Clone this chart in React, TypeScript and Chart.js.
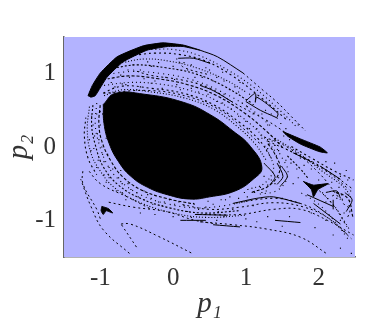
import React, { useEffect, useRef } from "react";
import { Chart, registerables } from "chart.js";
Chart.register(...registerables);

const p1Ticks = [-1, 0, 1, 2];
const p2Ticks = [-1, 0, 1];

type P = [number, number];
const blob: P[] = [[-.96,.58],[-.80,.73],[-.40,.72],[.14,.61],[.51,.44],[.82,.22],[1.06,.01],[1.22,-.28],[1.10,-.44],[.85,-.60],[.50,-.68],[.23,-.71],[-.08,-.65],[-.35,-.55],[-.58,-.40],[-.75,-.20],[-.88,.05],[-.95,.32],[-.96,.58]];
const crescent: P[] = [[-1.17,.70],[-1.11,.84],[-1.0,1.01],[-.77,1.23],[-.41,1.38],[-.14,1.42],[.14,1.39],[.37,1.32],[.14,1.37],[-.08,1.37],[-.36,1.32],[-.69,1.16],[-.91,.95],[-1.07,.70],[-1.13,.68],[-1.17,.70]];
const streak: P[] = [[1.51,.21],[1.75,.11],[2.02,0],[2.12,-.08],[2.0,-.06],[1.75,.04],[1.57,.15],[1.51,.21]];
const starRight: P[] = [[1.79,-.47],[1.93,-.52],[2.13,-.50],[1.99,-.58],[1.93,-.68],[1.90,-.58],[1.79,-.47]];
const starLeft: P[] = [[-.98,-.81],[-.89,-.84],[-.83,-.90],[-.92,-.87],[-.96,-.92],[-.99,-.87],[-.98,-.81]];
const shapes = [blob, crescent, streak, starRight, starLeft];

const tailSolid: P[] = [[.37,1.32],[.61,1.23],[.96,1.01]];
const loopLower: P[] = [[1.0,.62],[1.2,.50],[1.40,.41],[1.44,.39]];
const loopUpper: P[] = [[1.0,.63],[1.13,.73],[1.13,.61],[1.15,.68],[1.44,.46],[1.43,.41]];
const topLoopA: P[] = [[.07,1.21],[.28,1.21],[.51,1.14]];
const midDash: P[] = [[.37,.84],[.55,.77],[.82,.61]];
const bandB4: P[] = [[.82,-.77],[1.15,-.70],[1.38,-.68],[1.75,-.77]];
const hookA: P[] = [[1.43,-.22],[1.51,-.40],[1.43,-.51]];
const hookB: P[] = [[1.49,-.26],[1.57,-.40],[1.47,-.54]];
const hookC: P[] = [[1.25,-.22],[1.4,-.4],[1.33,-.52]];
const barA: P[] = [[.3,-.92],[.75,-.93]];
const barB: P[] = [[.1,-1.0],[.45,-1.0]];
const barC: P[] = [[1.4,-1.0],[1.75,-1.03]];
const barD: P[] = [[.55,-1.06],[.92,-1.09]];
const barE: P[] = [[1.84,-.65],[2.2,-.81]];
const barF: P[] = [[1.93,-.77],[2.3,-1.05]];
const barG: P[] = [[1.65,-.08],[1.88,-.19]];
const barH: P[] = [[2.02,-.26],[2.3,-.44]];
const loopRightA: P[] = [[2.1,-.62],[2.25,-.6],[2.3,-.7]];
const loopRightB: P[] = [[2.2,-.72],[2.2,-.85]];
const loopRightC: P[] = [[2.36,-.62],[2.46,-.72],[2.38,-.88]];
const solidLines = [tailSolid, loopLower, loopUpper, topLoopA, midDash, bandB4, hookA, hookB, hookC, barA, barB, barC, barD, barE, barF, barG, barH, loopRightA, loopRightB, loopRightC];

const tailDash: P[] = [[.96,1.01],[1.24,.77],[1.43,.61],[1.61,.43],[1.82,.22]];
const f1: P[] = [[-.55,1.05],[-.32,.98],[.14,.91],[.51,.80],[.82,.61],[1.29,.36],[1.57,.18]];
const f2: P[] = [[-1.0,.73],[-.32,.77],[.23,.68],[.65,.50],[.92,.29],[1.20,.04]];
const topLoopB: P[] = [[.07,1.19],[.14,1.09],[.51,.98]];
const l1: P[] = [[-.73,-1.05],[-.59,-1.05],[-.2,-1.22],[.28,-1.46]];
const l1b: P[] = [[-.71,-1.06],[-.5,-1.37]];
const l2: P[] = [[-1.27,-.44],[-1.13,-.81],[-.96,-1.13],[-.59,-1.46]];
const l3: P[] = [[-1.18,-.30],[-1.0,-.50],[-.63,-.68],[-.32,-.84]];
const l4: P[] = [[-1.24,-.30],[-1.24,-.50],[-1.05,-.85],[-1.0,-.98]];
const l5: P[] = [[-.9,-.75],[-.55,-.82],[-.1,-.88],[.3,-1.0],[.6,-1.05]];
const b1: P[] = [[.37,-1.02],[.82,-1.06],[1.29,-1.12],[1.75,-1.23],[2.12,-1.46]];
const b2: P[] = [[.37,-.92],[.92,-.92],[1.38,-.85],[1.75,-.85],[2.12,-1.0],[2.48,-1.2]];
const b3: P[] = [[.82,-.77],[1.38,-.70],[1.75,-.77],[2.06,-.92],[2.39,-1.19]];
const b4: P[] = [[.1,-.78],[.5,-.85],[.92,-.82],[1.38,-.76],[1.8,-.82],[2.15,-.98],[2.45,-1.25]];
const d1: P[] = [[1.47,.01],[2.02,-.26],[2.48,-.58]];
const d2: P[] = [[1.3,.08],[1.7,-.1],[2.15,-.36],[2.42,-.58]];
const d3: P[] = [[1.2,.16],[1.6,-.02],[2.0,-.35],[2.3,-.72]];
const d4: P[] = [[1.93,-.52],[2.20,-.79],[2.39,-1.09]];
const d5: P[] = [[2.16,-.68],[2.30,-.63],[2.34,-.77],[2.43,-.85],[2.39,-.98]];
const sparseLines = [tailDash, f1, f2, topLoopB, l1, l1b, l2, l3, l4, l5, b1, b2, b3, b4, d1, d2, d3, d4, d5];

const a1: P[] = [[-.95,.70],[-.7,.78],[-.3,.75],[.15,.67],[.55,.52],[.88,.28],[1.12,.05],[1.28,-.18]];
const a2: P[] = [[-1.0,.72],[-.7,.83],[-.3,.8],[.15,.73],[.55,.58],[.92,.33],[1.18,.1],[1.33,-.12]];
const a3: P[] = [[-.95,.84],[-.6,.88],[-.2,.86],[.2,.78],[.6,.63],[.98,.38],[1.25,.13],[1.42,-.08]];
const a4: P[] = [[-.9,.93],[-.6,.97],[-.2,.93],[.2,.85],[.6,.7],[1.0,.45],[1.3,.2],[1.5,.0]];
const a5: P[] = [[-.85,1.0],[-.55,1.03],[-.15,1.0],[.25,.92],[.65,.76],[1.05,.53],[1.35,.28]];
const a6: P[] = [[-.8,1.08],[-.5,1.12],[-.1,1.08],[.3,1.0],[.7,.83],[1.08,.6]];
const a7: P[] = [[-.7,1.15],[-.4,1.2],[-.05,1.17],[.35,1.07],[.75,.9],[1.0,.75]];
const a8: P[] = [[-.55,1.25],[-.25,1.28],[.1,1.26],[.45,1.17],[.8,.98],[1.2,.68],[1.55,.38]];
const a9: P[] = [[-.3,1.33],[.0,1.33],[.35,1.25],[.75,1.05],[1.1,.82],[1.5,.47],[1.7,.27]];
const c1: P[] = [[-1.0,.6],[-1.02,.3],[-.97,.05],[-.85,-.2],[-.7,-.4],[-.45,-.58],[-.1,-.7],[.3,-.78]];
const c2: P[] = [[-1.05,.6],[-1.07,.3],[-1.02,.05],[-.9,-.25],[-.72,-.47],[-.45,-.65],[-.1,-.77],[.3,-.83],[.7,-.8],[1.1,-.72]];
const c3: P[] = [[-1.1,.6],[-1.12,.3],[-1.07,.03],[-.96,-.27],[-.75,-.52],[-.45,-.7],[-.05,-.83],[.4,-.9],[.9,-.87]];
const c4: P[] = [[-1.15,.55],[-1.18,.25],[-1.14,-.05],[-1.02,-.3],[-.8,-.56],[-.45,-.76],[.0,-.9],[.45,-.96],[1.0,-.93]];
const c5: P[] = [[-1.2,.4],[-1.22,.15],[-1.17,-.15],[-1.05,-.38]];
const r1: P[] = [[1.02,-.58],[1.25,-.5],[1.38,-.3],[1.32,-.1],[1.25,.03]];
const r2: P[] = [[1.08,-.62],[1.33,-.52],[1.47,-.3],[1.4,-.1],[1.3,.05]];
const r3: P[] = [[1.15,-.65],[1.45,-.58],[1.58,-.35],[1.47,-.1],[1.35,.1]];
const r4: P[] = [[1.55,-.1],[1.75,-.3],[1.85,-.42]];
const r5: P[] = [[1.4,.12],[1.75,-.1],[2.05,-.33],[2.35,-.55],[2.45,-.7]];
const r6: P[] = [[1.6,.02],[1.9,-.15],[2.2,-.32],[2.48,-.45]];
const r7: P[] = [[2.05,-.62],[2.25,-.85],[2.42,-1.12]];
const r8: P[] = [[2.2,-.6],[2.4,-.7],[2.47,-.95]];
const r9: P[] = [[1.75,-.62],[2.0,-.78],[2.25,-1.05],[2.4,-1.25]];
const denseLines = [a1, a2, a3, a4, a5, a6, a7, a8, a9, c1, c2, c3, c4, c5, r1, r2, r3, r4, r5, r6, r7, r8, r9];

const specks: P[] = [[-1.05,.45],[-1.0,.3],[-1.08,.15],[-.98,.0],[-.95,-.2],[-.88,-.42],[-.7,-.5],[-.5,-.62],[-.3,-.7],[-.2,-.75],[-.6,.95],[-.45,1.05],[-.2,1.15],[.0,1.1],[.2,1.05],[.3,.95],[.5,1.05],[.7,.9],[.9,.75],[1.1,.45],[1.3,.3],[-.65,.85],[-.8,.82],[-.3,.87],[.1,.78],[.35,.75],[.6,.62],[.8,.52],[1.0,.35],[1.15,.25],[1.3,.1],[1.45,-.05],[1.6,.1],[1.75,-.15],[1.9,-.2],[2.1,-.2],[2.3,-.4],[2.4,-.45],[2.42,-.8],[2.3,-1.0],[2.1,-.75],[1.9,-.9],[1.6,-.95],[1.3,-.95],[1.0,-.98],[.7,-.95],[.45,-.82],[.2,-.88],[.0,-.95],[-.15,-.8],[-.4,-.72],[-.65,-.72],[2.45,-1.45],[2.3,-1.38],[1.9,-.3],[1.7,-.3],[1.5,-.7],[1.25,-.4],[1.3,-.52],[1.2,-.55],
[-.97,.45],[-1.12,.42],[-1.04,.18],[-1.15,.1],[-.92,.12],[-1.09,-.02],[-.9,-.1],[-1.03,-.18],[-.83,-.3],[-.95,-.38],[-.72,-.32],[-.62,-.5],[-.78,-.6],[-.4,-.6],[-.55,-.72],[-.28,-.78],[.02,-.78],[-.05,-.72],[.15,-.8],[.35,-.85],[.55,-.78],[.72,-.72],[.9,-.7],[1.02,-.68],[.62,-.88],[.82,-.85],[1.1,-.8],[1.22,-.62],[1.4,-.5],[1.35,-.15],[1.55,-.18],[1.65,-.5],[1.8,-.25],[1.98,-.25],[2.18,-.48],[2.28,-.55],[2.0,-.45],[2.1,-1.0],[2.35,-.9],[.4,.95],[.25,1.12],[.6,.95],[.85,.82],[.95,.6],[1.1,.58],[1.22,.45],[1.35,.45],[1.55,.25],[.7,.72],[.45,.62],[.25,.7],[.05,.85],[-.15,.8],[-.45,.82],[-.85,.88],[-.72,.98],[-.4,.93],[-.1,.95],[.15,1.15],[-.3,1.1],[-.55,1.12],
[-1.0,.48],[-1.1,.3],[-1.02,.1],[-1.13,-.05],[-.97,-.1],[-1.05,-.28],[-.88,-.28],[-.92,-.48],[-.75,-.42],[-.58,-.58],[-.7,-.62],[-.48,-.68],[-.35,-.65],[-.12,-.75],[.08,-.75],[.28,-.77],[.48,-.74],[.66,-.72],[.78,-.68],[.98,-.62],[1.12,-.62],[1.28,-.6],[1.35,-.45],[1.45,-.42],[1.3,-.02],[1.42,-.12],[1.62,-.22],[1.72,-.42],[.25,.8],[.48,.72],[.68,.6],[.9,.42],[1.05,.25],[1.22,.12],[1.4,.02],[-.5,.78],[-.7,.86],[-.25,.9],[.02,.92],[.32,.87],[.55,.9],[.78,.78],[1.02,.55],[1.27,.5],[1.48,.32],[-.62,1.05],[-.35,1.16],[.05,1.2],[.45,1.08],[.68,1.02],[.92,.88],[1.05,.72],[1.52,.15],[1.72,.3],[2.22,-.22],[2.38,-.32],[2.44,-.6],[2.25,-.7],[2.35,-1.15],[2.2,-1.2],[1.95,-1.1],[1.5,-1.08],[1.15,-1.02],[.6,-1.0],[.25,-.96],[-.25,-.92],[-.45,-.9]];

export default function App() {
  const ref = useRef<HTMLCanvasElement>(null);
  useEffect(() => {
    const xy = (a: P[]) => a.map(([x, y]) => ({ x, y }));
    const line = { showLine: true, borderColor: "#000", pointRadius: 0 };
    const patterns = [[1, 2], [2, 3], [1, 3], [3, 2], [1, 4], [2, 2]];
    const datasets: any[] = [
      ...shapes.map((s, i) => ({ ...line, data: xy(s), fill: "shape", backgroundColor: "#000", borderWidth: 1, tension: i === 0 ? 0.45 : 0.15 })),
      ...solidLines.map((s) => ({ ...line, data: xy(s), borderWidth: 1, tension: 0.3 })),
      ...sparseLines.map((s, i) => ({ ...line, data: xy(s), borderWidth: 1, borderDash: [2, 3], borderDashOffset: i, tension: 0.4 })),
      ...denseLines.map((s, i) => ({ ...line, data: xy(s), borderWidth: 1.1, borderDash: patterns[i % 6], borderDashOffset: i * 2, tension: 0.4 })),
      { data: xy(specks), pointStyle: "rect", pointRadius: 0.8, backgroundColor: "#000", borderWidth: 0 },
    ];
    const bg = { id: "bg", beforeDatasetsDraw(c: any) { const a = c.chartArea; c.ctx.save(); c.ctx.fillStyle = "#B3B3FF"; c.ctx.fillRect(a.left, a.top, a.width, a.height); c.ctx.restore(); } };
    const font = { family: "'Liberation Serif'", size: 25 };
    const titleFont = { family: "'Liberation Serif'", size: 29, style: "italic" };
    const chart = new Chart(ref.current!, {
      type: "scatter",
      data: { datasets },
      plugins: [bg],
      options: {
        animation: false, responsive: false,
        layout: { padding: { left: 2, top: 37, right: 35, bottom: 0 } },
        plugins: { legend: { display: false }, tooltip: { enabled: false } },
        scales: {
          x: {
            min: -1.5, max: 2.5,
            afterBuildTicks: (s: any) => { s.ticks = p1Ticks.map((value) => ({ value })); },
            afterFit: (s: any) => { s.height = 65; },
            grid: { display: false, drawTicks: false },
            border: { color: "#666", width: 1.5 },
            ticks: { padding: 6, maxRotation: 0, color: "#333", font, callback: (v: any) => String(v) },
            title: { display: true, text: "p₁", color: "#333", padding: { top: 8, bottom: 0 }, font: titleFont },
          },
          y: {
            min: -1.5, max: 1.5,
            afterBuildTicks: (s: any) => { s.ticks = p2Ticks.map((value) => ({ value })); },
            afterFit: (s: any) => { s.width = 62; },
            grid: { display: false, drawTicks: false },
            border: { color: "#666", width: 1.5 },
            ticks: { padding: 8, color: "#333", font, callback: (v: any) => String(v) },
            title: { display: true, text: "p₂", color: "#333", padding: 0, font: titleFont },
          },
        },
      } as any,
    });
    return () => chart.destroy();
  }, []);
  return <canvas ref={ref} width={390} height={322} style={{ position: "absolute", left: 0, top: 0, display: "block" }} />;
}
